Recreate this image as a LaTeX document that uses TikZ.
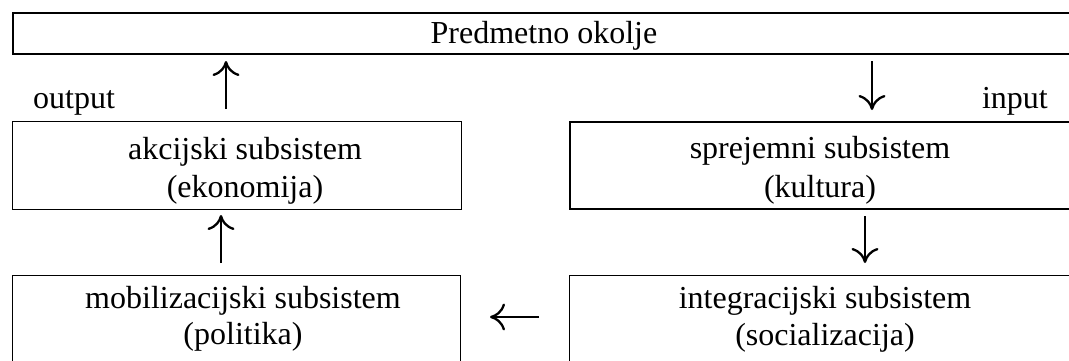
\documentclass[tikz,border=0pt]{standalone}
\usepackage{fontspec}
\setmainfont{Liberation Serif}
\usetikzlibrary{arrows.meta}
\begin{document}
\begin{tikzpicture}[x=1pt,y=-1pt,
  box/.style={draw, line width=#1, inner sep=0pt, anchor=north west},
  box/.default=1pt,
  txt/.style={font=\fontsize{32}{38}\selectfont, inner sep=0pt, anchor=base},
  arr/.style={line width=2.3pt, -{Computer Modern Rightarrow[length=15pt,width=27pt]}}]
\useasboundingbox (0,0) rectangle (1069,360);
\clip (-5,-5) rectangle (1069,360);
% boxes
\node[box=2pt, minimum width=1400pt, minimum height=41pt] (env) at (12,12) {};
\node[box=1.3pt, minimum width=449pt, minimum height=88pt] (akc) at (12,121) {};
\node[box=2pt, minimum width=900pt, minimum height=87pt] (spr) at (569,121) {};
\node[box=1pt, minimum width=448pt, minimum height=140pt] (mob) at (12,275) {};
\node[box=1pt, minimum width=900pt, minimum height=140pt] (int) at (569,275) {};
% texts
\node[txt] (envt) at (544,43) {Predmetno okolje};
\node[txt, anchor=base west] (out) at (33,108) {output};
\node[txt, anchor=base east] (in) at (1048,108) {input};
\node[txt] (akc1) at (245,159) {akcijski subsistem};
\node[txt] (akc2) at (245,197) {(ekonomija)};
\node[txt] (spr1) at (820,158) {sprejemni subsistem};
\node[txt] (spr2) at (820,197) {(kultura)};
\node[txt] (mob1) at (243,308) {mobilizacijski subsistem};
\node[txt] (mob2) at (243,344) {(politika)};
\node[txt] (int1) at (825,308) {integracijski subsistem};
\node[txt] (int2) at (825,345) {(socializacija)};
% arrows
\coordinate (a1s) at (226,109); \coordinate (a1e) at (226,61);
\coordinate (a2s) at (872,61);  \coordinate (a2e) at (872,110);
\coordinate (a3s) at (221,263); \coordinate (a3e) at (221,215);
\coordinate (a4s) at (865,216); \coordinate (a4e) at (865,263);
\coordinate (a5s) at (539,317); \coordinate (a5e) at (490,317);
\draw[arr] (a1s) -- (a1e);
\draw[arr] (a2s) -- (a2e);
\draw[arr] (a3s) -- (a3e);
\draw[arr] (a4s) -- (a4e);
\draw[arr] (a5s) -- (a5e);
\end{tikzpicture}
\end{document}
